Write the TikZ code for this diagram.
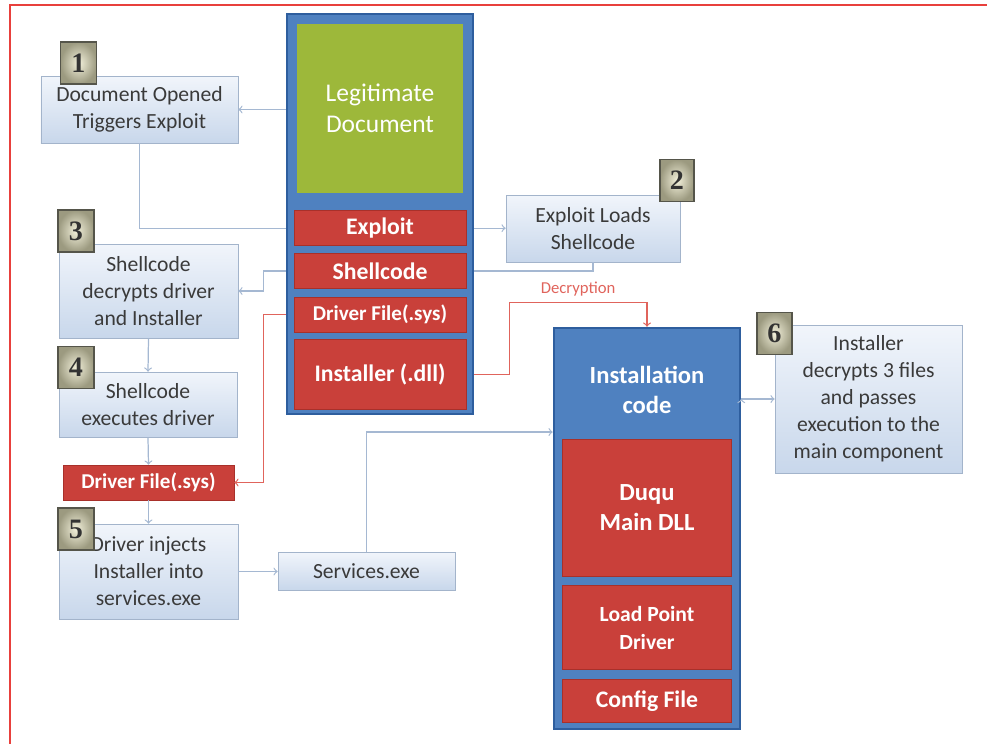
\documentclass[tikz,border=0pt]{standalone}
\usepackage{fontspec}
\setmainfont{Carlito}
\newfontfamily\badgefont{Liberation Serif}
\usetikzlibrary{calc, positioning}

\definecolor{holderblue}{HTML}{4F81C0}
\definecolor{holderedge}{HTML}{2E5E9E}
\definecolor{legitgreen}{HTML}{9DB83A}
\definecolor{partred}{HTML}{C9403A}
\definecolor{partedge}{HTML}{A8302A}
\definecolor{boxtop}{HTML}{F1F5FB}
\definecolor{boxbottom}{HTML}{C8D7EB}
\definecolor{boxedge}{HTML}{A3B4CB}
\definecolor{boxtext}{HTML}{3A3A3A}
\definecolor{badgeinner}{HTML}{F2F0DA}
\definecolor{badgeouter}{HTML}{9C9A80}
\definecolor{badgeedge}{HTML}{55554A}
\definecolor{linkgray}{HTML}{A5B8D2}
\definecolor{linkred}{HTML}{E0645C}
\definecolor{framered}{HTML}{E8403C}

\begin{document}
\begin{tikzpicture}[
  holder/.style={draw=holderedge, fill=holderblue, line width=1.5pt, minimum width=3.72cm},
  part/.style={draw=partedge, fill=partred, text=white, align=center, inner sep=1pt, minimum width=3.44cm, font=\bfseries\fontsize{13.5}{16}\selectfont},
  stepbox/.style={draw=boxedge, top color=boxtop, bottom color=boxbottom, text=boxtext, align=center, inner sep=1pt, font=\fontsize{12.3}{15.4}\selectfont},
  badge/.style={draw=badgeedge, line width=0.8pt, inner color=badgeinner, outer color=badgeouter, minimum width=0.72cm, minimum height=0.84cm, inner sep=0pt, text=black!80, font=\badgefont\bfseries\fontsize{16}{16}\selectfont},
  link/.style={draw=linkgray, line width=0.7pt},
  redlink/.style={draw=linkred, line width=0.7pt}
  ]

  \useasboundingbox (0,0) rectangle (19.74,-14.88);
  \draw[framered, line width=0.6pt] (19.74,-0.1) -- (0.2,-0.1) -- (0.2,-14.88);

  \draw node[holder, minimum height=8cm] (docL) at (7.6,-4.28) {};
  \draw node[fill=legitgreen, minimum width=3.32cm, minimum height=3.38cm, align=center, text=white, font=\fontsize{14.5}{17.6}\selectfont] (legit) at (7.6,-2.17) {Legitimate\\Document}
	node[part, minimum height=0.7cm, below=0.34 of legit](exploit) {Exploit}
	node[part, minimum height=0.7cm, below=0.14 of exploit](shell) {Shellcode}
	node[part, minimum height=0.7cm, below=0.16 of shell, font=\bfseries\fontsize{12}{14}\selectfont](driver) {Driver File(.sys)}
	node[part, minimum height=1.4cm, below=0.14 of driver](installer) {Installer (.dll)};

  \draw node[stepbox, minimum width=3.94cm, minimum height=1.34cm] (open) at (2.79,-2.19) {Document Opened\\Triggers Exploit};
  \draw node[stepbox, minimum width=3.48cm, minimum height=1.34cm] (loads) at (11.86,-4.57) {Exploit Loads\\Shellcode};
  \draw node[stepbox, minimum width=3.58cm, minimum height=1.88cm] (decrypt) at (2.97,-5.82) {Shellcode\\decrypts driver\\and Installer};
  \draw node[stepbox, minimum width=3.56cm, minimum height=1.3cm] (execute) at (2.96,-8.09) {Shellcode\\executes driver};
  \draw node[part, minimum width=3.42cm, minimum height=0.7cm, font=\bfseries\fontsize{12}{14}\selectfont] (drvcopy) at (2.97,-9.65) {Driver File(.sys)};
  \draw node[stepbox, minimum width=3.58cm, minimum height=1.9cm] (inject) at (2.97,-11.43) {Driver injects\\Installer into\\services.exe};
  \draw node[stepbox, minimum width=3.54cm, minimum height=0.76cm] (services) at (7.33,-11.42) {Services.exe};
  \draw node[stepbox, minimum width=3.74cm, minimum height=2.96cm] (final) at (17.37,-7.98) {Installer\\decrypts 3 files\\and passes\\execution to the\\main component};

  \draw node[holder, minimum height=8.02cm] (setup) at (12.94,-10.57) {};
  \draw node[text=white, align=center, font=\bfseries\fontsize{14}{17.5}\selectfont] (setuplbl) at (12.94,-7.8) {Installation\\code};
  \draw node[part, minimum width=3.38cm, minimum height=2.74cm, font=\bfseries\fontsize{14}{17.5}\selectfont] (duqu) at (12.94,-10.15) {Duqu\\Main DLL}
	node[part, minimum width=3.38cm, minimum height=1.68cm, below=0.18 of duqu, font=\bfseries\fontsize{12.3}{16}\selectfont](loadpt) {Load Point\\Driver}
	node[part, minimum width=3.38cm, minimum height=0.86cm, below=0.18 of loadpt](config) {Config File};

  \draw node[badge] (n1) at (1.57,-1.26) {1};
  \draw node[badge, minimum width=0.68cm] (n2) at (13.54,-3.61) {2};
  \draw node[badge] (n3) at (1.52,-4.62) {3};
  \draw node[badge] (n4) at (1.52,-7.35) {4};
  \draw node[badge] (n5) at (1.52,-10.58) {5};
  \draw node[badge, minimum width=0.7cm] (n6) at (15.49,-6.67) {6};

  \coordinate[above=0.48cm of setup.north] (dec);

  \path[link, ->] (docL.west |- open.east) edge (open.east)
	(exploit -| docL.east) edge (loads.west |- exploit)
	(decrypt.south) edge (execute.north)
	(execute.south) edge (drvcopy.north)
	(drvcopy.south) edge (inject.north)
	(inject.east) edge (services.west |- inject.east)
	(setup.east |- final.west) edge (final.west);
  \draw[link] (open.south) |- (exploit -| docL.west);
  \draw[link] (loads.south) |- (shell -| docL.east);
  \draw[link, ->] (shell -| docL.west) -- ++(-0.44,0) |- (decrypt.east);
  \draw[link, ->] (services.north) |- ([yshift=1.93cm]setup.west);
  \draw[redlink, ->] (driver -| docL.west) -- ++(-0.44,0) |- (drvcopy.east);
  \draw[redlink, ->] (installer -| docL.east) -- ++(0.7,0) |- node[above, pos=0.75, text=linkred, font=\fontsize{9.5}{11}\selectfont] {Decryption} (dec) -- (setup.north);
\end{tikzpicture}
\end{document}
